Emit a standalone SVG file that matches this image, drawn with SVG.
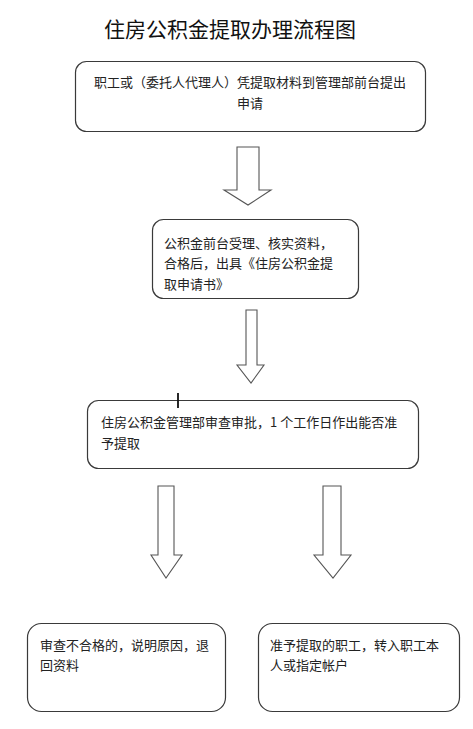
<svg xmlns="http://www.w3.org/2000/svg" width="473" height="729" viewBox="0 0 473 729">
<style>
.box{fill:#fff;stroke:#3a3a3a;stroke-width:1.2}
.arr{fill:#fff;stroke:#555;stroke-width:1.1;stroke-linejoin:miter}
.t{font-family:"Noto Sans CJK SC","Microsoft YaHei",sans-serif;font-size:13px;fill:#222}
.title{font-family:"Noto Sans CJK SC",sans-serif;font-size:21px;fill:#111}
</style>
<rect width="473" height="729" fill="#fff"/>
<text class="title" x="230" y="37" text-anchor="middle">住房公积金提取办理流程图</text>
<g id="node1">
<rect class="box" x="75.5" y="61.5" width="350" height="70" rx="11"/>
<text class="t" x="250" y="87" text-anchor="middle">职工或（委托人代理人）凭提取材料到管理部前台提出</text>
<text class="t" x="250" y="108" text-anchor="middle">申请</text>
</g>
<g id="node2">
<rect class="box" x="152.5" y="219.5" width="206" height="79" rx="11"/>
<text class="t" x="164" y="248">公积金前台受理、核实资料，</text>
<text class="t" x="164" y="268">合格后，出具《住房公积金提</text>
<text class="t" x="164" y="289">取申请书》</text>
</g>
<g id="node3">
<rect class="box" x="87.5" y="400.5" width="331" height="68" rx="11"/>
<text class="t" x="101" y="427">住房公积金管理部审查审批，1 个工作日作出能否准</text>
<text class="t" x="101" y="448">予提取</text>
<line x1="178" y1="393" x2="178" y2="408" stroke="#111" stroke-width="1.8"/>
</g>
<g id="node4">
<rect class="box" x="27.5" y="623.5" width="198" height="88" rx="14"/>
<text class="t" x="40" y="650">审查不合格的，说明原因，退</text>
<text class="t" x="40" y="670">回资料</text>
</g>
<g id="node5">
<rect class="box" x="258.5" y="623.5" width="201" height="88" rx="14"/>
<text class="t" x="270" y="650">准予提取的职工，转入职工本</text>
<text class="t" x="270" y="670">人或指定帐户</text>
</g>
<g id="connectors">
<polygon class="arr" points="237,147 259,147 259,190 271,190 248,205 224,190 237,190"/>
<polygon class="arr" points="246,310 257,310 257,365 264,365 251,383 237,365 246,365"/>
<polygon class="arr" points="158,486 174,486 174,555 182,555 166,578 151,555 158,555"/>
<polygon class="arr" points="323,486 341,486 341,555 351,555 333,578 314,555 323,555"/>
</g>
</svg>
